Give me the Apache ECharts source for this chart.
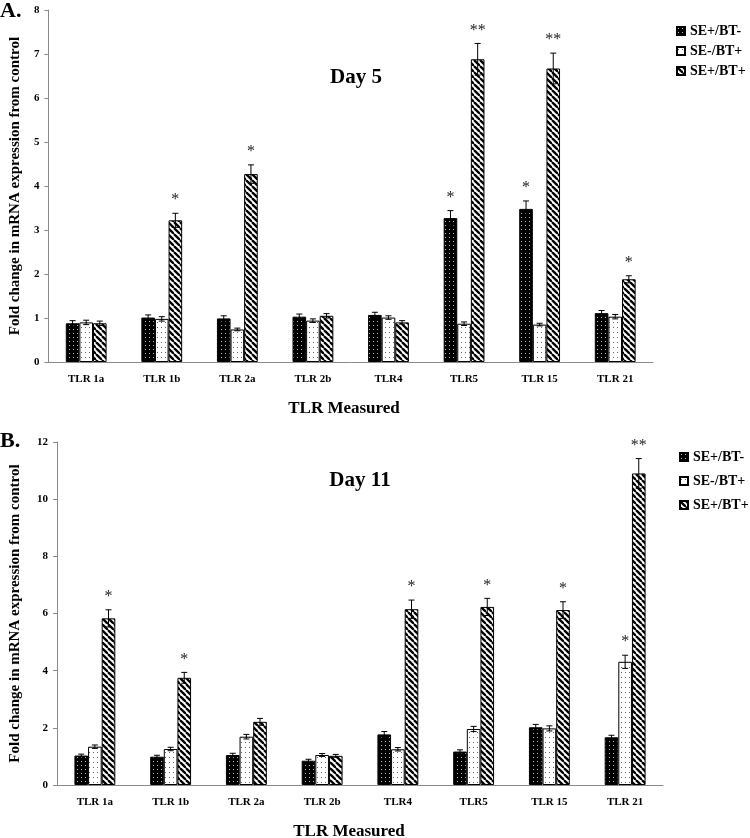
<!DOCTYPE html>
<html>
<head>
<meta charset="utf-8">
<script src="https://cdn.jsdelivr.net/npm/echarts@6/dist/echarts.min.js"></script>
<style>
html,body{margin:0;padding:0;background:#fff;}
#chart{width:750px;height:838px;}
</style>
</head>
<body>
<div id="chart"></div>
<script>
// ---------- DATA ----------
const categories = ['TLR 1a','TLR 1b','TLR 2a','TLR 2b','TLR4','TLR5','TLR 15','TLR 21'];
const seriesNames = ['SE+/BT-','SE-/BT+','SE+/BT+'];

// Day 5 (panel A)
const day5_SEpBTm = [0.88,1.01,0.99,1.03,1.07,3.27,3.48,1.11];
const day5_SEmBTp = [0.90,0.98,0.74,0.94,1.01,0.87,0.85,1.03];
const day5_SEpBTp = [0.88,3.22,4.27,1.05,0.90,6.88,6.67,1.88];
const day5_err_SEpBTm = [0.06,0.06,0.06,0.06,0.06,0.17,0.18,0.06];
const day5_err_SEmBTp = [0.05,0.05,0.03,0.04,0.04,0.04,0.03,0.05];
const day5_err_SEpBTp = [0.05,0.16,0.21,0.05,0.04,0.36,0.35,0.08];
const day5_sig_SEpBTm = ['','','','','','*','*',''];
const day5_sig_SEmBTp = ['','','','','','','',''];
const day5_sig_SEpBTp = ['','*','*','','','**','**','*'];
const day5_yTicks = [0,1,2,3,4,5,6,7,8];

// Day 11 (panel B)
const day11_SEpBTm = [1.03,0.99,1.05,0.85,1.77,1.17,2.02,1.67];
const day11_SEmBTp = [1.34,1.26,1.69,1.05,1.25,1.96,1.98,4.31];
const day11_SEpBTp = [5.83,3.75,2.21,1.02,6.15,6.23,6.12,10.90];
const day11_err_SEpBTm = [0.05,0.05,0.06,0.05,0.10,0.06,0.10,0.07];
const day11_err_SEmBTp = [0.06,0.06,0.08,0.05,0.06,0.09,0.09,0.23];
const day11_err_SEpBTp = [0.30,0.19,0.12,0.05,0.32,0.30,0.29,0.52];
const day11_sig_SEpBTm = ['','','','','','','',''];
const day11_sig_SEmBTp = ['','','','','','','','*'];
const day11_sig_SEpBTp = ['*','*','','','*','*','*','**'];
const day11_yTicks = [0,2,4,6,8,10,12];

// ---------- PATTERNS ----------
function makeTile(w, h, draw){
  const c = document.createElement('canvas');
  c.width = w; c.height = h;
  const ctx = c.getContext('2d');
  draw(ctx, w, h);
  return c;
}
const patBlack = makeTile(4,4,(ctx,w,h)=>{
  ctx.fillStyle='#000';ctx.fillRect(0,0,w,h);
  ctx.fillStyle='rgba(255,255,255,0.75)';ctx.fillRect(1,1,1,1);
});
const patWhite = makeTile(4,5,(ctx,w,h)=>{
  ctx.fillStyle='#fff';ctx.fillRect(0,0,w,h);
  ctx.fillStyle='#666';ctx.fillRect(1,2,1,1);
});
const patHatch = makeTile(6,6,(ctx,w,h)=>{
  ctx.fillStyle='#fff';ctx.fillRect(0,0,w,h);
  ctx.strokeStyle='#000';ctx.lineWidth=2.3;
  for(const x0 of [-w,0,w]){
    ctx.beginPath();ctx.moveTo(x0,0);ctx.lineTo(x0+w,h);ctx.stroke();
  }
});
const patterns = [patBlack, patWhite, patHatch];

// ---------- OPTION ----------
const FONT = 'Liberation Serif';
const BAR_FRAC = 0.18;

function barSeries(name, data, gi, pi){
  return {
    name: name, type: 'bar', xAxisIndex: gi, yAxisIndex: gi,
    data: data, barWidth: (BAR_FRAC*100)+'%', barGap: '0%',
    itemStyle: { color: {image: patterns[pi], repeat: 'repeat'}, borderColor: '#000', borderWidth: 1 },
    emphasis: {disabled: true}, animation: false
  };
}
function errSeries(gi, vals, errs, sigs){
  const data = [];
  for(let s=0;s<vals.length;s++){
    for(let i=0;i<vals[s].length;i++){
      data.push([i, s, vals[s][i], errs[s][i], sigs[s][i]]);
    }
  }
  return {
    type: 'custom', xAxisIndex: gi, yAxisIndex: gi, data: data, z: 10, silent: true,
    animation: false,
    renderItem: function(params, api){
      const cat = api.value(0), s = api.value(1), v = api.value(2), e = api.value(3);
      const sig = data[params.dataIndex][4];
      const band = api.size([1,0])[0];
      const cx = api.coord([cat, v])[0] + (s-1)*BAR_FRAC*band;
      const yTop = api.coord([cat, v+e])[1];
      const yBot = api.coord([cat, v-e])[1];
      const cap = 3;
      const st = {stroke:'#000', lineWidth:1};
      const children = [
        {type:'line', shape:{x1:cx,y1:yTop,x2:cx,y2:yBot}, style:st},
        {type:'line', shape:{x1:cx-cap,y1:yTop,x2:cx+cap,y2:yTop}, style:st},
        {type:'line', shape:{x1:cx-cap,y1:yBot,x2:cx+cap,y2:yBot}, style:st}
      ];
      if(sig){
        children.push({type:'text', x: cx, y: yTop-5, style:{text: sig, fill:'#222', font:'16px "'+FONT+'"', align:'center', verticalAlign:'bottom'}});
      }
      return {type:'group', children: children};
    }
  };
}

const axisLabelStyle = {color:'#000', fontFamily: FONT, fontWeight:'bold', fontSize: 11};
function xAxisCfg(gi){
  return {
    type:'category', gridIndex: gi, data: categories,
    axisLine:{lineStyle:{color:'#8a8a8a'}}, axisTick:{length:4, lineStyle:{color:'#8a8a8a'}},
    axisLabel: Object.assign({margin: 12}, axisLabelStyle)
  };
}
function yAxisCfg(gi, ticks, gap){
  return {
    type:'value', gridIndex: gi, min: ticks[0], max: ticks[ticks.length-1],
    interval: ticks[1]-ticks[0],
    axisLine:{show:true, lineStyle:{color:'#8a8a8a'}}, axisTick:{show:true, length:4, lineStyle:{color:'#8a8a8a'}},
    splitLine:{show:false},
    axisLabel: Object.assign({margin: 9}, axisLabelStyle),
    name: 'Fold change in mRNA expression from control', nameLocation:'middle', nameRotate: 90, nameGap: gap,
    nameTextStyle:{color:'#000', fontFamily: FONT, fontWeight:'bold', fontSize: 15}
  };
}
const legendText = {color:'#000', fontFamily: FONT, fontWeight:'bold', fontSize: 14};

const option = {
  backgroundColor: '#fff',
  animation: false,
  grid: [
    {left: 42, top: 10, width: 611, height: 352},
    {left: 53, top: 442, width: 610, height: 343}
  ],
  xAxis: [xAxisCfg(0), xAxisCfg(1)],
  yAxis: [yAxisCfg(0, day5_yTicks, 23), yAxisCfg(1, day11_yTicks, 34)],
  legend: [
    {data: seriesNames, orient:'vertical', left: 671, top: 19, icon: 'rect', itemWidth: 8, itemHeight: 8, itemGap: 6,
     textStyle: legendText, selectedMode: false},
    {data: seriesNames, orient:'vertical', left: 674, top: 445, icon: 'rect', itemWidth: 8, itemHeight: 8, itemGap: 10,
     textStyle: legendText, selectedMode: false}
  ],
  series: [
    barSeries(seriesNames[0], day5_SEpBTm, 0, 0),
    barSeries(seriesNames[1], day5_SEmBTp, 0, 1),
    barSeries(seriesNames[2], day5_SEpBTp, 0, 2),
    barSeries(seriesNames[0], day11_SEpBTm, 1, 0),
    barSeries(seriesNames[1], day11_SEmBTp, 1, 1),
    barSeries(seriesNames[2], day11_SEpBTp, 1, 2),
    errSeries(0, [day5_SEpBTm, day5_SEmBTp, day5_SEpBTp], [day5_err_SEpBTm, day5_err_SEmBTp, day5_err_SEpBTp], [day5_sig_SEpBTm, day5_sig_SEmBTp, day5_sig_SEpBTp]),
    errSeries(1, [day11_SEpBTm, day11_SEmBTp, day11_SEpBTp], [day11_err_SEpBTm, day11_err_SEmBTp, day11_err_SEpBTp], [day11_sig_SEpBTm, day11_sig_SEmBTp, day11_sig_SEpBTp])
  ],
  graphic: [
    {type:'text', left: 0, top: 0, style:{text:'A.', fill:'#000', font:'bold 22px "'+FONT+'"'}},
    {type:'text', left: 0, top: 430, style:{text:'B.', fill:'#000', font:'bold 22px "'+FONT+'"'}},
    {type:'text', x: 356, y: 78, style:{text:'Day 5', fill:'#000', font:'bold 21px "'+FONT+'"', align:'center', verticalAlign:'middle'}},
    {type:'text', x: 360, y: 481, style:{text:'Day 11', fill:'#000', font:'bold 21px "'+FONT+'"', align:'center', verticalAlign:'middle'}},
    {type:'text', x: 344, y: 409, style:{text:'TLR Measured', fill:'#000', font:'bold 17px "'+FONT+'"', align:'center', verticalAlign:'middle'}},
    {type:'text', x: 349, y: 832, style:{text:'TLR Measured', fill:'#000', font:'bold 17px "'+FONT+'"', align:'center', verticalAlign:'middle'}}
  ]
};

const chart = echarts.init(document.getElementById('chart'), null, {renderer:'canvas'});
chart.setOption(option);
</script>
</body>
</html>
